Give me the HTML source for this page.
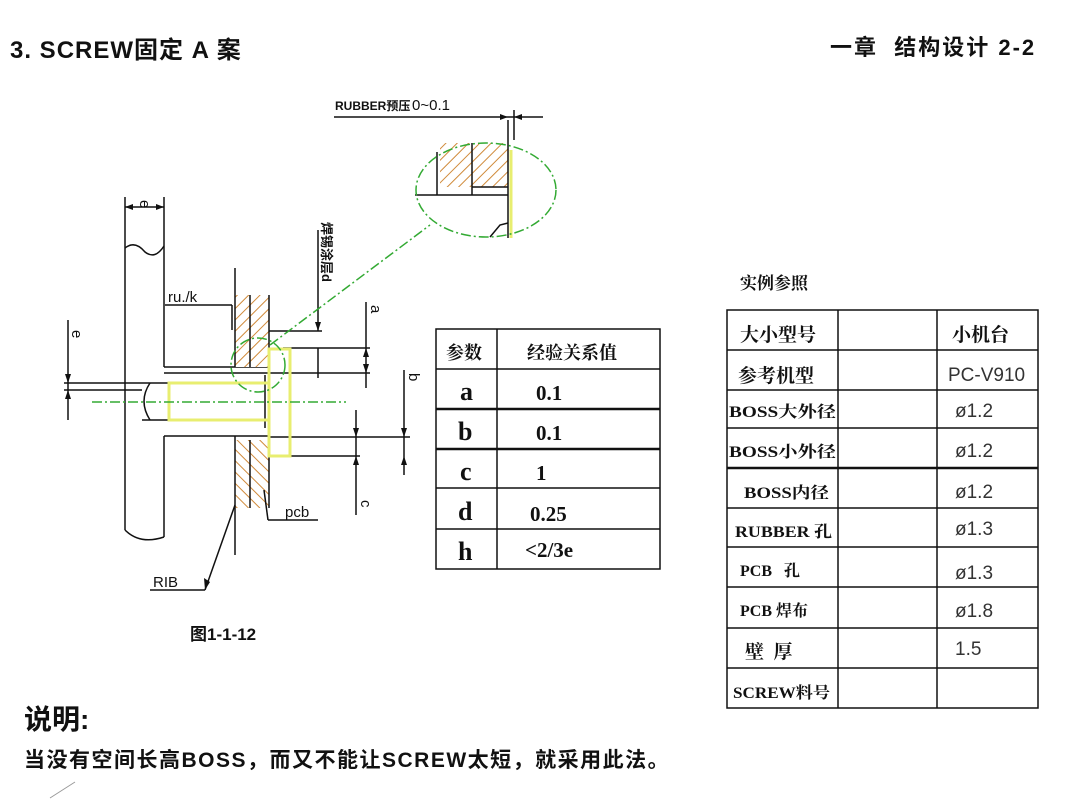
<!DOCTYPE html>
<html><head><meta charset="utf-8"><style>
body{margin:0;background:#fff;width:1076px;height:807px;overflow:hidden;position:relative;font-family:"Liberation Sans","Noto Sans CJK SC",sans-serif}
.t{position:absolute;font-weight:bold;color:#111;white-space:nowrap}
</style></head><body>
<svg width="1076" height="807" style="position:absolute;left:0;top:0" font-family="Liberation Sans, Noto Sans CJK SC, sans-serif">
<defs>
<pattern id="h" width="8" height="8" patternUnits="userSpaceOnUse" patternTransform="rotate(45)"><rect width="8" height="8" fill="#fff"/><line x1="0" y1="0" x2="0" y2="8" stroke="#d08a3a" stroke-width="2"/></pattern>
<pattern id="h2" width="8" height="8" patternUnits="userSpaceOnUse" patternTransform="rotate(-45)"><rect width="8" height="8" fill="#fff"/><line x1="0" y1="0" x2="0" y2="8" stroke="#d08a3a" stroke-width="2"/></pattern>
</defs>
<g stroke="#111" stroke-width="1.5" fill="none">
<line x1="125" y1="197" x2="125" y2="530"/>
<line x1="164" y1="197" x2="164" y2="367"/>
<line x1="164" y1="436" x2="164" y2="537"/>
<path d="M125 248 Q135 240 145 252 Q155 260 164 246"/>
<path d="M125 530 Q140 545 164 537"/>
<line x1="164" y1="367" x2="269" y2="367"/>
<line x1="164" y1="436" x2="269" y2="436"/>
<line x1="125" y1="207" x2="164" y2="207"/>
<rect x="235" y="295" width="34" height="72" fill="url(#h)" stroke="none"/>
<rect x="235" y="440" width="34" height="68" fill="url(#h2)" stroke="none"/>
<line x1="235" y1="268" x2="235" y2="367"/>
<line x1="235" y1="436" x2="235" y2="555"/>
<line x1="250" y1="295" x2="250" y2="367"/>
<line x1="250" y1="440" x2="250" y2="508"/>
<line x1="269" y1="295" x2="269" y2="508"/>
<line x1="142" y1="383" x2="265" y2="383"/>
<line x1="142" y1="420" x2="265" y2="420"/>
<path d="M150 383 Q138 401 150 420"/>
<line x1="265" y1="375" x2="265" y2="428"/>
<line x1="269" y1="331" x2="322" y2="331"/>
<line x1="283" y1="348" x2="370" y2="348"/>
<line x1="164" y1="373" x2="370" y2="373"/>
<line x1="318" y1="230" x2="318" y2="331"/>
<line x1="366" y1="302" x2="366" y2="388"/>
<line x1="318" y1="348" x2="318" y2="378"/>
<line x1="269" y1="437" x2="410" y2="437"/>
<line x1="290" y1="456" x2="360" y2="456"/>
<line x1="356" y1="410" x2="356" y2="515"/>
<line x1="404" y1="370" x2="404" y2="475"/>
<line x1="64" y1="383" x2="142" y2="383"/>
<line x1="64" y1="390" x2="142" y2="390"/>
<line x1="68" y1="320" x2="68" y2="420"/>
<line x1="165" y1="305" x2="232" y2="305"/>
<line x1="232" y1="305" x2="232" y2="330"/>
<line x1="264" y1="490" x2="268" y2="520"/>
<line x1="268" y1="520" x2="318" y2="520"/>
<line x1="235" y1="505" x2="205" y2="590"/>
<line x1="150" y1="590" x2="205" y2="590"/>
<rect x="440" y="143" width="68" height="44" fill="url(#h)" stroke="none"/>
<line x1="437" y1="152" x2="437" y2="195"/>
<line x1="472" y1="143" x2="472" y2="195"/>
<line x1="472" y1="187" x2="508" y2="187"/>
<line x1="415" y1="195" x2="508" y2="195"/>
<line x1="508" y1="120" x2="508" y2="238"/>
<line x1="514" y1="110" x2="514" y2="140"/>
<path d="M490 237 L500 225 L508 223"/>
<line x1="334" y1="117" x2="543" y2="117"/>
</g>
<g fill="#111">
<polygon points="125,207 133,204 133,210"/><polygon points="164,207 156,204 156,210"/>
<polygon points="318,331 315,322 321,322"/><polygon points="366,373 363,364 369,364"/><polygon points="366,348 363,357 369,357"/>
<polygon points="68,383 65,374 71,374"/><polygon points="68,390 65,399 71,399"/>
<polygon points="356,437 353,428 359,428"/><polygon points="356,456 353,465 359,465"/>
<polygon points="404,437 401,428 407,428"/><polygon points="404,456 401,465 407,465"/>
<polygon points="205,590 204,578 210,582"/>
<polygon points="508,117 500,114 500,120"/><polygon points="514,117 522,114 522,120"/>
</g>
<g fill="none" stroke="#e8ee70" stroke-width="3">
<rect x="169" y="383" width="100" height="37"/>
<rect x="269" y="349" width="21" height="107"/>
<line x1="511" y1="150" x2="511" y2="238"/>
</g>
<g fill="none" stroke="#33aa33" stroke-width="1.5" stroke-dasharray="10,3,2,3">
<line x1="92" y1="402" x2="346" y2="402"/>
<circle cx="258" cy="365" r="27"/>
<ellipse cx="486" cy="190" rx="70" ry="47"/>
<line x1="270" y1="345" x2="430" y2="225"/>
</g>
<g font-size="15" fill="#111">
<text x="168" y="302">ru./k</text>
<text x="285" y="517">pcb</text>
<text x="153" y="587">RIB</text>
<text x="335" y="110" font-weight="bold" font-size="12">RUBBER预压</text>
<text x="412" y="110">0~0.1</text>
<text x="140" y="200" transform="rotate(90 140 200)">e</text>
<text x="72" y="330" transform="rotate(90 72 330)">e</text>
<text x="371" y="305" transform="rotate(90 371 305)">a</text>
<text x="409" y="373" transform="rotate(90 409 373)">b</text>
<text x="361" y="500" transform="rotate(90 361 500)">c</text>
<text x="322" y="222" font-weight="bold" font-size="13" transform="rotate(90 322 222)">焊锡涂层d</text>
</g>
<g stroke="#111" stroke-width="1.5" fill="none">
<rect x="436" y="329" width="224" height="240"/>
<line x1="497" y1="329" x2="497" y2="569"/>
<line x1="436" y1="369" x2="660" y2="369"/>
<line x1="436" y1="409" x2="660" y2="409" stroke-width="2.5"/>
<line x1="436" y1="449" x2="660" y2="449" stroke-width="2.5"/>
<line x1="436" y1="488" x2="660" y2="488"/>
<line x1="436" y1="529" x2="660" y2="529"/>
</g>
<g fill="#111" font-weight="bold" font-family="Liberation Serif, Noto Serif CJK SC, serif">
<text x="446" y="359" font-size="18">参数</text>
<text x="527" y="359" font-size="18">经验关系值</text>
<g font-size="26"><text x="460" y="400">a</text><text x="458" y="440">b</text><text x="460" y="480">c</text><text x="458" y="520">d</text><text x="458" y="560">h</text></g>
<g font-size="21"><text x="536" y="400">0.1</text><text x="536" y="440">0.1</text><text x="536" y="480">1</text><text x="530" y="521">0.25</text><text x="525" y="557">&lt;2/3e</text></g>
</g>
<g stroke="#111" stroke-width="1.5" fill="none">
<rect x="727" y="310" width="311" height="398"/>
<line x1="838" y1="310" x2="838" y2="708"/>
<line x1="937" y1="310" x2="937" y2="708"/>
<line x1="727" y1="350" x2="1038" y2="350"/>
<line x1="727" y1="390" x2="1038" y2="390"/>
<line x1="727" y1="428" x2="1038" y2="428"/>
<line x1="727" y1="468" x2="1038" y2="468" stroke-width="2.5"/>
<line x1="727" y1="508" x2="1038" y2="508"/>
<line x1="727" y1="547" x2="1038" y2="547"/>
<line x1="727" y1="587" x2="1038" y2="587"/>
<line x1="727" y1="628" x2="1038" y2="628"/>
<line x1="727" y1="668" x2="1038" y2="668"/>
</g>
<g fill="#111" font-weight="bold" font-size="16" font-family="Liberation Serif, Noto Serif CJK SC, serif">
<text x="740" y="289" font-size="17">实例参照</text>
<text x="740" y="341" font-size="19">大小型号</text>
<text x="952" y="341" font-size="19">小机台</text>
<text x="738" y="382" font-size="19">参考机型</text>
<text x="729" y="417" textLength="107" lengthAdjust="spacingAndGlyphs">BOSS大外径</text>
<text x="729" y="457" textLength="107" lengthAdjust="spacingAndGlyphs">BOSS小外径</text>
<text x="744" y="498" textLength="85" lengthAdjust="spacingAndGlyphs">BOSS内径</text>
<text x="735" y="537" textLength="97" lengthAdjust="spacingAndGlyphs">RUBBER 孔</text>
<text x="740" y="576">PCB&#160;&#160;&#160;孔</text>
<text x="740" y="616">PCB 焊布</text>
<text x="745" y="658" font-size="19">壁&#160;&#160;厚</text>
<text x="733" y="698" textLength="97" lengthAdjust="spacingAndGlyphs">SCREW料号</text>
</g>
<g fill="#333" font-size="19">
<text x="948" y="381">PC-V910</text>
<text x="955" y="417">ø1.2</text><text x="955" y="457">ø1.2</text><text x="955" y="498">ø1.2</text>
<text x="955" y="535">ø1.3</text><text x="955" y="579">ø1.3</text><text x="955" y="617">ø1.8</text>
<text x="955" y="655">1.5</text>
</g>
<line x1="50" y1="798" x2="75" y2="782" stroke="#999" stroke-width="1"/>
</svg>
<div class="t" style="left:10px;top:30px;font-size:24px;letter-spacing:1px">3. SCREW固定 A 案</div>
<div class="t" style="left:830px;top:30px;font-size:22px;letter-spacing:2px">一章&nbsp;&nbsp;结构设计 2-2</div>
<div class="t" style="left:190px;top:620px;font-size:17px">图1-1-12</div>
<div class="t" style="left:24px;top:698px;font-size:28px">说明:</div>
<div class="t" style="left:24px;top:744px;font-size:21px;letter-spacing:1.5px">当没有空间长高BOSS，而又不能让SCREW太短，就采用此法。</div>
</body></html>
